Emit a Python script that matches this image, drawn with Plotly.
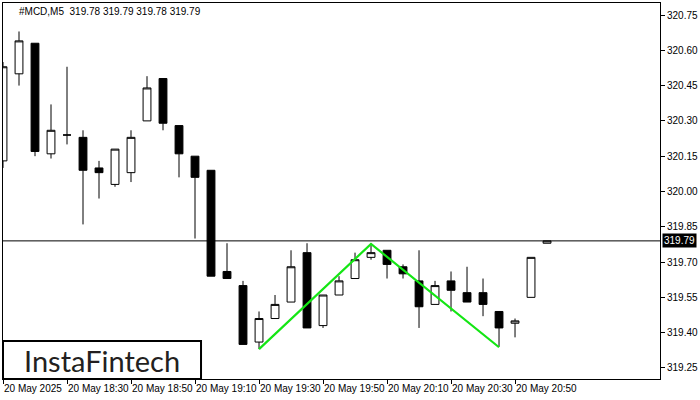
import plotly.graph_objects as go

# ---- data (5-minute candles, 20 May 2025, 18:10 .. 21:00) ----
times = ["18:10", "18:15", "18:20", "18:25", "18:30", "18:35", "18:40", "18:45",
         "18:50", "18:55", "19:00", "19:05", "19:10", "19:15", "19:20", "19:25",
         "19:30", "19:35", "19:40", "19:45", "19:50", "19:55", "20:00", "20:05",
         "20:10", "20:15", "20:20", "20:25", "20:30", "20:35", "20:40", "20:45",
         "20:50", "20:55", "21:00"]
opens = [320.13, 320.50, 320.63, 320.16, 320.24, 320.23, 320.10, 320.03,
         320.08, 320.30, 320.48, 320.28, 320.15, 320.09, 319.66, 319.60,
         319.36, 319.46, 319.53, 319.74, 319.43, 319.56, 319.63, 319.72,
         319.75, 319.68, 319.62, 319.52, 319.62, 319.57, 319.57, 319.49,
         319.44, 319.55, 319.78]
highs = [320.55, 320.68, 320.63, 320.37, 320.53, 320.26, 320.13, 320.18,
         320.26, 320.49, 320.48, 320.28, 320.15, 320.09, 319.78, 319.62,
         319.49, 319.56, 319.75, 319.78, 319.56, 319.64, 319.74, 319.78,
         319.75, 319.69, 319.75, 319.62, 319.66, 319.68, 319.63, 319.49,
         319.46, 319.72, 319.79]
lows = [320.10, 320.45, 320.15, 320.14, 320.20, 319.86, 319.97, 320.02,
        320.04, 320.30, 320.26, 320.06, 319.80, 319.64, 319.63, 319.35,
        319.33, 319.46, 319.53, 319.42, 319.42, 319.56, 319.63, 319.71,
        319.63, 319.63, 319.42, 319.52, 319.49, 319.53, 319.47, 319.34,
        319.38, 319.55, 319.78]
closes = [320.53, 320.64, 320.17, 320.26, 320.24, 320.09, 320.08, 320.18,
          320.23, 320.44, 320.29, 320.16, 320.06, 319.64, 319.63, 319.35,
          319.46, 319.52, 319.68, 319.42, 319.56, 319.62, 319.71, 319.74,
          319.69, 319.65, 319.51, 319.60, 319.58, 319.53, 319.52, 319.42,
          319.45, 319.72, 319.79]

# pattern (double top) points: bar index and price
pattern_idx = [16, 23, 31]
pattern_price = [319.33, 319.777, 319.338]

current_price = 319.79
header = "#MCD,M5  319.78 319.79 319.78 319.79"

y_ticks = [319.25, 319.40, 319.55, 319.70, 319.85, 320.00, 320.15, 320.30, 320.45, 320.60, 320.75]
x_tick_idx = [0, 4, 8, 12, 16, 20, 24, 28, 32]
x_tick_text = ["20 May 2025", "20 May 18:30", "20 May 18:50", "20 May 19:10",
               "20 May 19:30", "20 May 19:50", "20 May 20:10", "20 May 20:30",
               "20 May 20:50"]

xs = list(range(len(times)))

fig = go.Figure()
fig.add_trace(go.Candlestick(
    x=xs, open=opens, high=highs, low=lows, close=closes,
    increasing=dict(line=dict(color="black", width=1), fillcolor="white"),
    decreasing=dict(line=dict(color="black", width=1), fillcolor="black"),
    whiskerwidth=0, hoverinfo="skip", showlegend=False,
))
fig.add_trace(go.Scatter(
    x=pattern_idx, y=pattern_price, mode="lines",
    line=dict(color="#14e614", width=2.2), hoverinfo="skip", showlegend=False,
))

fig.add_shape(type="line", xref="paper", x0=0, x1=1, yref="y",
              y0=current_price, y1=current_price, line=dict(color="black", width=1))

font = "Liberation Sans"
fig.add_annotation(xref="paper", x=1, xanchor="left", xshift=2, yref="y", y=current_price,
                   yanchor="middle",
                   text="%.2f" % current_price, showarrow=False,
                   bgcolor="black", borderpad=1,
                   font=dict(family=font, size=10, color="white"))
fig.add_annotation(xref="paper", x=0, xanchor="left", xshift=14, yref="paper", y=1,
                   yanchor="top", yshift=-1, text=header, showarrow=False,
                   font=dict(family=font, size=10, color="black"))

# logo box
fig.add_shape(type="rect", xref="paper", yref="paper", x0=0, x1=0.3014, y0=0, y1=0.101,
              line=dict(color="black", width=2), fillcolor="white", layer="above")
fig.add_annotation(xref="paper", yref="paper", x=0.1507, y=0.0505, xanchor="center",
                   yanchor="middle", text="InstaFintech",
                   showarrow=False, font=dict(family="Lato", size=29, color="#231f20"))

fig.update_layout(
    width=700, height=400,
    margin=dict(l=3, r=40, t=3, b=21, autoexpand=False),
    paper_bgcolor="white", plot_bgcolor="white",
    hovermode=False,
    xaxis=dict(range=[0, 41.06], rangeslider=dict(visible=False), showgrid=False,
               zeroline=False, showline=True, mirror=True, linecolor="black", linewidth=1,
               tickmode="array", tickvals=x_tick_idx, ticktext=x_tick_text,
               ticks="outside", ticklen=4, tickcolor="black", tickangle=0,
               automargin=False,
               ticklabelposition="outside right",
               tickfont=dict(family=font, size=10, color="black")),
    yaxis=dict(range=[319.203, 320.801], side="right", showgrid=False, zeroline=False,
               showline=True, mirror=True, linecolor="black", linewidth=1,
               tickmode="array", tickvals=y_ticks, ticktext=["%.2f" % v for v in y_ticks],
               ticks="outside", ticklen=4, tickcolor="black", automargin=False,
               tickfont=dict(family=font, size=10, color="black")),
)

fig.write_html("out.html", config={"displayModeBar": False},
               post_script="document.body.style.margin='0';document.body.style.padding='0';")
